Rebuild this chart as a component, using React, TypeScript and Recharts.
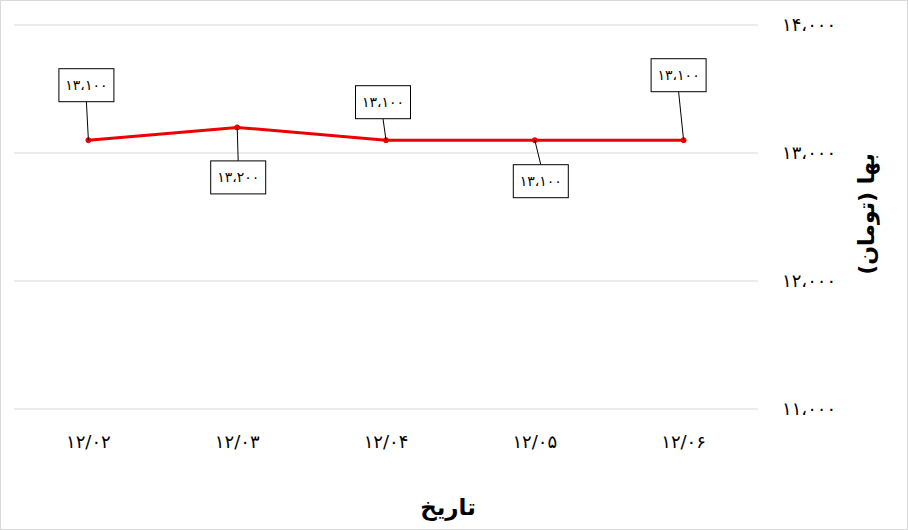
import { LineChart, Line, XAxis, YAxis, CartesianGrid, LabelList, Label } from 'recharts';

document.body.style.margin = '0';

const months = ['12/02', '12/03', '12/04', '12/05', '12/06'];
const prices = [13100, 13200, 13100, 13100, 13100];
const yTicks = [11000, 12000, 13000, 14000];

// label box offsets from each point (layout only)
const labelDx = [-2, 1, -3, 6, -5];
const labelDy = [-55, 50, -38, 41, -65];

const FA_DIGITS = '۰۱۲۳۴۵۶۷۸۹';
const toFa = (s: string) => s.replace(/\d/g, (d) => FA_DIGITS[Number(d)]);
const fmtNum = (v: number) => toFa(v.toString().replace(/\B(?=(\d{3})+(?!\d))/g, '،'));

const data = months.map((m, i) => ({ month: m, price: prices[i] }));

const FONT = '"DejaVu Sans", sans-serif';

const BoxLabel = (props: any) => {
  const { x, y, value, index } = props;
  const w = 55;
  const h = 33;
  const cx = x + labelDx[index];
  const cy = y + labelDy[index];
  const edgeY = labelDy[index] < 0 ? cy + h / 2 : cy - h / 2;
  return (
    <g>
      <line x1={x} y1={y} x2={cx} y2={edgeY} stroke="#000" strokeWidth={1} />
      <rect x={cx - w / 2} y={cy - h / 2} width={w} height={h} fill="#fff" stroke="#000" strokeWidth={1} />
      <text x={cx} y={cy} textAnchor="middle" dominantBaseline="central" fontSize={14} fontFamily={FONT} fill="#000">
        {fmtNum(value)}
      </text>
    </g>
  );
};

export default function App() {
  return (
    <div style={{ width: 908, height: 530, border: '1px solid #d9d9d9', boxSizing: 'border-box', background: '#fff' }}>
      <LineChart width={906} height={528} data={data} margin={{ top: 24, right: 0, bottom: 0, left: 13 }}>
        <CartesianGrid vertical={false} stroke="#d9d9d9" />
        <XAxis
          dataKey="month"
          scale="band"
          axisLine={false}
          tickLine={false}
          height={120}
          tickMargin={20}
          tickFormatter={(v) => toFa(v)}
          tick={{ fill: '#000', fontSize: 18, fontFamily: FONT }}
        >
          <Label value="تاریخ" position="insideBottom" offset={14} dx={62} fill="#000" fontSize={23} fontWeight="bold" fontFamily={FONT} />
        </XAxis>
        <YAxis
          orientation="right"
          domain={[11000, 14000]}
          ticks={yTicks}
          axisLine={false}
          tickLine={false}
          width={149}
          tickMargin={18}
          tickFormatter={(v) => fmtNum(v)}
          tick={{ fill: '#000', fontSize: 18, fontFamily: FONT, textAnchor: 'start' }}
        >
          <Label value="بها (تومان)" angle={-90} position="center" dx={34} dy={-3} fill="#000" fontSize={22} fontWeight="bold" fontFamily={FONT} />
        </YAxis>
        <Line
          dataKey="price"
          stroke="#ee0000"
          strokeWidth={3}
          dot={{ r: 2.5, fill: '#ee0000', stroke: '#ee0000', strokeWidth: 1 }}
          isAnimationActive={false}
        >
          <LabelList dataKey="price" content={<BoxLabel />} />
        </Line>
      </LineChart>
    </div>
  );
}
